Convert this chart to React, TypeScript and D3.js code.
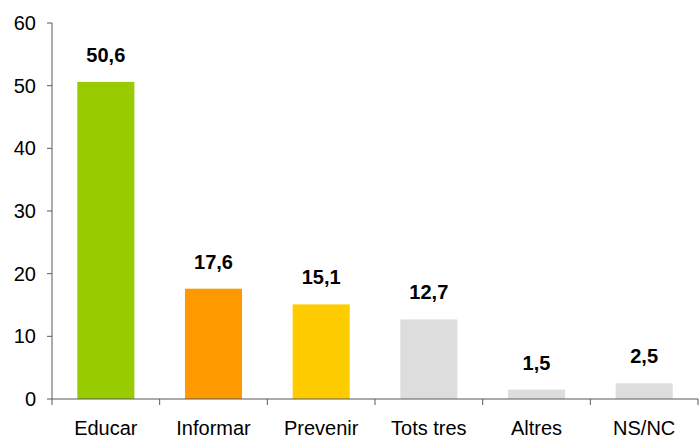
import React from "react";
import * as d3 from "d3";

const categories = ["Educar", "Informar", "Prevenir", "Tots tres", "Altres", "NS/NC"];
const values = [50.6, 17.6, 15.1, 12.7, 1.5, 2.5];
const colors = ["#99CC00", "#FF9900", "#FFCC00", "#DDDDDD", "#DDDDDD", "#DDDDDD"];
const yTicks = [0, 10, 20, 30, 40, 50, 60];

export default function App() {
  const W = 699, H = 439;
  const left = 52, right = 698, top = 23, bottom = 399;
  const x = d3.scaleBand<string>().domain(categories).range([left, right]).paddingInner(0.47).paddingOuter(0.235);
  const xb = d3.scaleBand<string>().domain(categories).range([left, right]);
  const y = d3.scaleLinear().domain([0, 60]).range([bottom, top]);
  const font = "Arial, 'Liberation Sans', sans-serif";
  const axisColor = "#595959";
  return (
    <svg width={W} height={H} style={{ position: "absolute", left: 0, top: 0, background: "#fff" }} fontFamily={font}>
      {categories.map((c, i) => (
        <g key={c}>
          <rect x={x(c)} y={y(values[i])} width={x.bandwidth()} height={bottom - y(values[i])} fill={colors[i]} />
          <text x={x(c)! + x.bandwidth() / 2} y={y(values[i]) - 20} textAnchor="middle" fontSize={20} fontWeight="bold" fill="#000">
            {values[i].toFixed(1).replace(".", ",")}
          </text>
          <text x={xb(c)! + xb.bandwidth() / 2} y={435} textAnchor="middle" fontSize={20} fill="#000">{c}</text>
        </g>
      ))}
      <line x1={left} x2={left} y1={top} y2={bottom} stroke={axisColor} strokeWidth={1} />
      {yTicks.map((t) => (
        <g key={t}>
          <line x1={left - 5} x2={left} y1={y(t)} y2={y(t)} stroke={axisColor} />
          <text x={36} y={y(t) + 7} textAnchor="end" fontSize={20} fill="#000">{t}</text>
        </g>
      ))}
      <line x1={left} x2={right} y1={bottom} y2={bottom} stroke={axisColor} />
      {categories.map((c) => (
        <line key={c} x1={xb(c)} x2={xb(c)} y1={bottom} y2={bottom + 6} stroke={axisColor} />
      ))}
      <line x1={right} x2={right} y1={bottom} y2={bottom + 6} stroke={axisColor} />
    </svg>
  );
}
